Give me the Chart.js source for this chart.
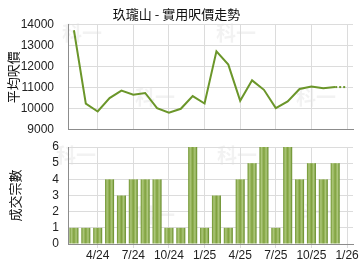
<!DOCTYPE html>
<html>
<head>
<meta charset="utf-8">
<script src="https://cdn.jsdelivr.net/npm/chart.js@4"></script>
<style>
  html, body { margin: 0; padding: 0; background: #fff; }
  #wrap { position: relative; width: 360px; height: 270px; overflow: hidden; }
  #priceChart { position: absolute; left: 0; top: 0; }
  #dealChart { position: absolute; left: 0; top: 135px; }
</style>
</head>
<body>
<div id="wrap">
  <canvas id="priceChart" width="360" height="137"></canvas>
  <canvas id="dealChart" width="360" height="135"></canvas>
</div>
<script>
// months Feb 2024 .. Jan 2026
const months = ['2/24','3/24','4/24','5/24','6/24','7/24','8/24','9/24','10/24','11/24','12/24',
                '1/25','2/25','3/25','4/25','5/25','6/25','7/25','8/25','9/25','10/25','11/25','12/25','1/26'];

// average price per sq ft
const avgPrice = [13730, 10240, 9870, 10510, 10860, 10670, 10750, 10030, 9810, 10000, 10600,
                  10250, 12730, 12100, 10380, 11350, 10900, 10030, 10350, 10940, 11060, 10970, 11030, null];
// dotted tail to the latest month
const priceTail = [null, null, null, null, null, null, null, null, null, null, null,
                   null, null, null, null, null, null, null, null, null, null, null, 11030, 11030];

// number of deals
const deals = [1, 1, 1, 4, 3, 4, 4, 4, 1, 1, 6, 1, 3, 1, 4, 5, 6, 1, 6, 4, 5, 4, 5, null];

const priceTicks = [9000, 10000, 11000, 12000, 13000, 14000];
const dealTicks = [0, 1, 2, 3, 4, 5, 6];

const numFont = { family: "'Liberation Sans Narrow', 'Liberation Sans', Arial, sans-serif", size: 12 };
const cjkFont = "'Noto Sans CJK TC', 'Noto Sans CJK SC', sans-serif";
const gridColor = '#dcdcdc';
const axisColor = '#8c8c8c';
const lineColor = '#6b962a';
const clear = 'rgba(0,0,0,0)';

function isQuarter(label) {
    const m = parseInt(label.split('/')[0], 10);
    return m === 1 || m === 4 || m === 7 || m === 10;
}

function quarterGrid(ctx) {
    const lbl = months[ctx.index];
    return lbl && isQuarter(lbl) ? gridColor : clear;
}

// faint "科一" marks behind the plot
function watermark(spots) {
    return {
        id: 'watermark',
        beforeDraw(chart) {
            const c = chart.ctx;
            c.save();
            c.font = "bold 20px " + cjkFont;
            c.fillStyle = 'rgba(0,0,0,0.05)';
            c.textAlign = 'center';
            c.textBaseline = 'middle';
            spots.forEach(p => c.fillText('科一', p[0], p[1]));
            c.restore();
        }
    };
}

// Price trend chart
new Chart(document.getElementById('priceChart').getContext('2d'), {
    type: 'line',
    data: {
        labels: months,
        datasets: [{
            data: avgPrice,
            borderColor: lineColor,
            borderWidth: 2,
            pointRadius: 0,
            tension: 0,
            fill: false
        }, {
            data: priceTail,
            borderColor: lineColor,
            borderWidth: 2,
            borderDash: [2, 2],
            pointRadius: 0,
            fill: false
        }]
    },
    options: {
        responsive: false,
        animation: false,
        devicePixelRatio: 1,
        layout: { padding: { left: 0, right: 7, top: 0, bottom: 0 } },
        plugins: {
            legend: { display: false },
            tooltip: { enabled: false },
            title: {
                display: true,
                text: '玖瓏山 - 實用呎價走勢',
                color: '#111',
                font: { family: cjkFont, size: 13, weight: 'normal' },
                padding: { top: 6, bottom: 3 }
            }
        },
        scales: {
            x: {
                type: 'category',
                offset: true,
                ticks: { display: false, autoSkip: false },
                grid: { offset: false, drawTicks: false, color: quarterGrid },
                border: { color: axisColor },
                afterFit: function (s) { s.height = 7; }
            },
            y: {
                min: 9000,
                max: 14000,
                afterBuildTicks: function (s) { s.ticks = priceTicks.map(v => ({ value: v })); },
                ticks: {
                    autoSkip: false,
                    color: '#222',
                    font: numFont,
                    padding: 0,
                    callback: function (v) { return String(v); }
                },
                grid: { drawTicks: true, tickLength: 14, tickColor: clear, color: gridColor },
                border: { color: axisColor },
                title: {
                    display: true,
                    text: '平均呎價',
                    color: '#111',
                    font: { family: cjkFont, size: 13 },
                    padding: { top: 5, bottom: 0 }
                },
                afterFit: function (s) { s.width = 68; }
            }
        }
    },
    plugins: [watermark([[82, 33], [236, 33], [155, 97], [316, 97]])]
});

// horizontal shading of each bar
function barFill(ctx) {
    const chart = ctx.chart;
    const xs = chart.scales.x;
    if (!xs || ctx.dataIndex == null) return '#86a845';
    const cx = xs.getPixelForValue(ctx.dataIndex);
    const w = (xs.width / months.length) * 0.76;
    if (!isFinite(cx) || !isFinite(w) || w <= 0) return '#86a845';
    const g = chart.ctx.createLinearGradient(cx - w / 2, 0, cx + w / 2, 0);
    g.addColorStop(0, '#6a9028');
    g.addColorStop(0.22, '#adc77a');
    g.addColorStop(0.5, '#7fa13d');
    g.addColorStop(0.75, '#aec87c');
    g.addColorStop(1, '#5f8620');
    return g;
}

// Deals chart
new Chart(document.getElementById('dealChart').getContext('2d'), {
    type: 'bar',
    data: {
        labels: months,
        datasets: [{
            data: deals,
            categoryPercentage: 1,
            barPercentage: 0.76,
            backgroundColor: barFill,
            borderWidth: 0
        }]
    },
    options: {
        responsive: false,
        animation: false,
        devicePixelRatio: 1,
        layout: { padding: { left: 0, right: 7, top: 12, bottom: 0 } },
        plugins: {
            legend: { display: false },
            tooltip: { enabled: false }
        },
        scales: {
            x: {
                type: 'category',
                offset: true,
                ticks: {
                    autoSkip: false,
                    maxRotation: 0,
                    padding: 0,
                    color: '#222',
                    font: numFont,
                    callback: function (v, i) { return isQuarter(months[i]) ? months[i] : ''; }
                },
                grid: { offset: false, tickLength: 4, color: quarterGrid },
                border: { color: axisColor },
                afterFit: function (s) { s.height = 26; }
            },
            y: {
                min: 0,
                max: 6,
                afterBuildTicks: function (s) { s.ticks = dealTicks.map(v => ({ value: v })); },
                ticks: {
                    autoSkip: false,
                    color: '#222',
                    font: numFont,
                    padding: 0,
                    callback: function (v) { return String(v); }
                },
                grid: { drawTicks: true, tickLength: 9, tickColor: clear, color: gridColor },
                border: { color: axisColor },
                title: {
                    display: true,
                    text: '成交宗數',
                    color: '#111',
                    font: { family: cjkFont, size: 13 },
                    padding: { top: 7, bottom: 0 }
                },
                afterFit: function (s) { s.width = 68; }
            }
        }
    },
    plugins: [watermark([[76, 20], [237, 20], [155, 80], [315, 77]])]
});
</script>
</body>
</html>
